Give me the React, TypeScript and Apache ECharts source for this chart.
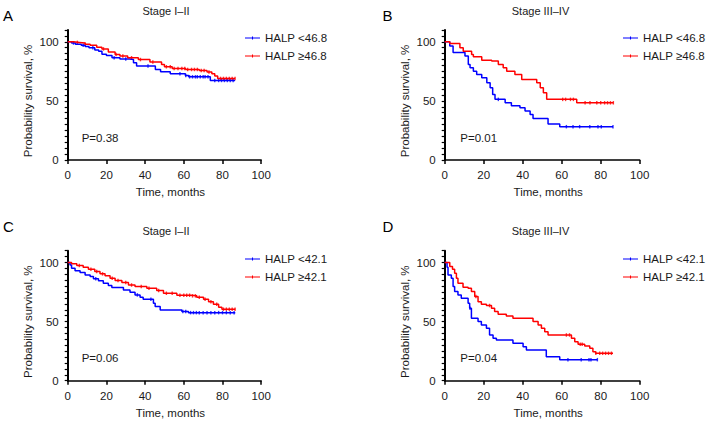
import React, { useEffect, useRef } from "react";
import * as echarts from "echarts";

// ---------- data (time in months, survival in %) ----------
const xTicks = [0, 20, 40, 60, 80, 100];
const yLabels = [0, 50, 100];

// Panel A – Stage I–II, HALP cut-off 46.8
const aLowT = [0, 2, 4, 7, 9, 11, 14, 16, 17.7, 20, 22.9, 27, 32, 34, 35.6, 45.3, 48, 53, 60.8, 62.5, 73.7, 86.5];
const aLowS = [100, 99, 98, 97, 96, 95, 93, 92, 89.5, 88.5, 86.5, 85.5, 85, 82.3, 79.5, 76.6, 74.7, 73, 71.6, 70.4, 67.3, 67.3];
const aLowCensor = [3, 8, 13, 24, 30, 41.5, 58, 61, 63, 64.5, 66, 67, 68.5, 70, 71, 72.5, 76, 78, 79.5, 81, 82.5, 84, 85.5];
const aHighT = [0, 3, 6, 9, 11.6, 15, 17.7, 21, 24.5, 27, 31, 36.5, 42.5, 48.5, 50, 54, 61, 68, 72, 74.5, 76, 77.5, 86.5];
const aHighS = [100, 99.5, 99, 98, 97, 95.5, 94, 91.3, 89.3, 87.9, 86.5, 85, 83, 80.9, 78.9, 77.5, 76.6, 75.8, 74.4, 73, 71, 69, 69];
const aHighCensor = [5, 9, 18.5, 25, 28.5, 33, 37.6, 44, 51, 53, 55, 57, 59, 60.5, 62, 64, 65.5, 67, 69, 70.5, 73, 79, 80.5, 82, 83.5, 85, 86.5];

// Panel B – Stage III–IV, HALP cut-off 46.8
const bLowT = [0, 2.6, 4.3, 10.4, 12.1, 13, 14.7, 16.4, 19, 21.6, 23.3, 24.6, 25.8, 31, 34.2, 38.6, 41.2, 43.8, 45.3, 53, 59, 86.3];
const bLowS = [100, 96.4, 91, 87.9, 80.9, 78, 75.2, 72.4, 69.6, 65.4, 61.1, 55.5, 51.3, 48.4, 46, 44.2, 41.4, 38.6, 35.2, 30.4, 28.2, 28.2];
const bLowCensor = [27.5, 62.4, 65.8, 69.2, 74.4, 78.6, 80.3, 86.3];
const bHighT = [0, 2.6, 7.8, 9.5, 13.8, 14.7, 19, 24.1, 27.5, 30, 31.8, 36, 39.5, 47.2, 49, 50.6, 52.3, 67.7, 86.5];
const bHighS = [100, 98.6, 94.9, 92.1, 89.3, 87.3, 84.5, 83.7, 80.9, 78, 75.2, 72.4, 68.2, 65.3, 61.1, 56.9, 51.3, 48.4, 48.4];
const bHighCensor = [60.5, 62, 64.5, 66, 72, 74.5, 78, 80, 82, 83.5, 85, 86.5];

// Panel C – Stage I–II, HALP cut-off 42.1
const cLowT = [0, 1.2, 2, 3.8, 6.4, 9, 11.6, 13.3, 15.9, 18.4, 21, 22.8, 28.8, 32.2, 34.8, 37.4, 39, 44.3, 45.2, 47.8, 59, 62.4, 86.6];
const cLowS = [100, 98, 95.2, 93, 91.5, 89.5, 88.1, 86.2, 84.5, 82.5, 80.5, 78.8, 76.8, 74.9, 72.6, 70.6, 68.9, 65.5, 62.7, 59.9, 58.5, 57.6, 57.6];
const cLowCensor = [14.5, 36, 43, 59.5, 61, 63.5, 65, 66.5, 68, 70, 72, 74, 76, 78, 80, 82, 84, 86];
const cHighT = [0, 2, 4.7, 8, 10.7, 14, 16.7, 19.3, 21.9, 24.5, 28, 31.4, 34.8, 40.9, 46, 49.5, 56.4, 63.3, 66.7, 70.2, 72.8, 75.3, 78, 79.7, 86.6];
const cHighS = [100, 99, 97.5, 96, 94.4, 92.4, 90.4, 88.7, 86.7, 84.7, 83, 81, 79.7, 78.2, 76.3, 74, 72.3, 71.8, 70.6, 68.9, 66.7, 64.7, 62.1, 60.5, 60.5];
const cHighCensor = [6, 12, 15, 18, 23, 26, 30, 33, 38, 42, 47, 51, 54, 58, 60, 61.5, 63, 64.5, 66, 68, 71, 74, 77, 80.5, 82, 83.5, 85, 86.5];

// Panel D – Stage III–IV, HALP cut-off 42.1
const dLowT = [0, 1.2, 1.7, 3.4, 4.3, 5.1, 6.8, 8.5, 12, 12.8, 13.7, 17.1, 18.8, 21.4, 23, 24.8, 26.5, 35, 40.2, 41.9, 52.1, 59, 78.3];
const dLowS = [100, 96, 89.5, 86.7, 79.7, 75.4, 72.6, 69.8, 65.5, 61.3, 52.8, 50, 47.2, 44.4, 38.7, 35.9, 34.5, 31.6, 28.8, 26, 20.3, 17.8, 17.8];
const dLowCensor = [13, 63.2, 70, 74, 75, 78.3];
const dHighT = [0, 2.6, 4, 5.1, 6, 6.8, 9.4, 12, 13.7, 15.4, 17.1, 18.8, 21.4, 24, 25.6, 27.4, 31.6, 35, 45.3, 47.9, 49.6, 51.3, 53, 65, 66.7, 68.4, 71.8, 74.4, 76, 77.4, 86.3];
const dHighS = [100, 96.6, 94.4, 91, 86.7, 82.5, 79.1, 78.2, 75.4, 71.2, 66.9, 64.7, 63.6, 61.3, 58.5, 56.2, 54.8, 52.8, 50, 47.2, 44.4, 41.5, 38.7, 35.9, 33, 30.8, 29.4, 27.4, 24.6, 23.2, 23.2];
const dHighCensor = [16, 23, 62.4, 64, 69.5, 70.5, 77.5, 79.5, 81, 82.5, 84, 85.5];

const titles = ["Stage I–II", "Stage III–IV", "Stage I–II", "Stage III–IV"];
const letters = ["A", "B", "C", "D"];
const pValues = ["P=0.38", "P=0.01", "P=0.06", "P=0.04"];
const lowNames = ["HALP <46.8", "HALP <46.8", "HALP <42.1", "HALP <42.1"];
const highNames = ["HALP ≥46.8", "HALP ≥46.8", "HALP ≥42.1", "HALP ≥42.1"];

const lowData = [
  [aLowT, aLowS, aLowCensor],
  [bLowT, bLowS, bLowCensor],
  [cLowT, cLowS, cLowCensor],
  [dLowT, dLowS, dLowCensor],
];
const highData = [
  [aHighT, aHighS, aHighCensor],
  [bHighT, bHighS, bHighCensor],
  [cHighT, cHighS, cHighCensor],
  [dHighT, dHighS, dHighCensor],
];

// ---------- layout ----------
const FONT = '"Liberation Sans", Arial, Helvetica, sans-serif';
const BLUE = "#0000ff";
const RED = "#ff0000";
const TXT = "#1a1a1a";

const gridLeft = [67.7, 444.7, 67.7, 444.7];
const gridTop = [30, 30, 250.7, 250.7];
const gridW = [193.5, 195, 193.5, 195];
const gridH = 130;
const legendLeft = [245, 623, 245, 623];
const legendTop = [31, 31, 252, 252];
const titleX = [166, 540.5, 166, 540.5];
const titleY = [11, 11, 230.7, 230.7];
const letterX = [3, 382.5, 3, 382.5];
const letterY = [15, 15, 226, 226];
const pX = [81.7, 460.3, 81.7, 460.3];
const pY = [137.7, 137.7, 357.7, 357.7];

function survAt(t: number, T: number[], S: number[]) {
  let v = S[0];
  for (let i = 0; i < T.length; i++) {
    if (T[i] <= t) v = S[i];
    else break;
  }
  return v;
}

const legendIcon = "path://M0,1.8H20V3.2H0Z M9.3,0.5H10.7V4.5H9.3Z";

function buildOption() {
  const grid: any[] = [];
  const xAxis: any[] = [];
  const yAxis: any[] = [];
  const series: any[] = [];
  const legend: any[] = [];
  const graphic: any[] = [];

  for (let i = 0; i < 4; i++) {
    grid.push({ left: gridLeft[i], top: gridTop[i], width: gridW[i], height: gridH, containLabel: false });
    xAxis.push({
      type: "value",
      gridIndex: i,
      min: xTicks[0],
      max: xTicks[xTicks.length - 1],
      interval: xTicks[1] - xTicks[0],
      name: "Time, months",
      nameLocation: "middle",
      nameGap: 26,
      nameTextStyle: { fontFamily: FONT, fontSize: 11.5, color: TXT, padding: [0, 0, 0, 12] },
      axisLine: { show: true, onZero: false, lineStyle: { color: "#000", width: 1.5 } },
      axisTick: { show: true, length: 4, lineStyle: { color: "#000", width: 1.5 } },
      axisLabel: { margin: 9, fontFamily: FONT, fontSize: 11.5, color: TXT },
      splitLine: { show: false },
    });
    yAxis.push({
      type: "value",
      gridIndex: i,
      min: 0,
      max: 110,
      interval: 5,
      name: "Probability survival, %",
      nameLocation: "middle",
      nameGap: 34,
      nameTextStyle: { fontFamily: FONT, fontSize: 11.5, color: TXT, padding: [0, 12, 0, 0] },
      axisLine: { show: true, onZero: false, lineStyle: { color: "#000", width: 2 } },
      axisTick: { show: true, length: 3, lineStyle: { color: "#000", width: 1.2 } },
      axisLabel: {
        margin: 9,
        fontFamily: FONT,
        fontSize: 11.5,
        color: TXT,
        formatter: (v: number) => (yLabels.indexOf(v) >= 0 ? String(v) : ""),
      },
      splitLine: { show: false },
    });

    const groups = [
      { name: lowNames[i], d: lowData[i], color: BLUE },
      { name: highNames[i], d: highData[i], color: RED },
    ];
    groups.forEach((g) => {
      const [T, S, C] = g.d as number[][];
      series.push({
        type: "line",
        name: g.name,
        xAxisIndex: i,
        yAxisIndex: i,
        step: "end",
        symbol: "none",
        data: T.map((t, k) => [t, S[k]]),
        lineStyle: { color: g.color, width: 1.5 },
        itemStyle: { color: g.color },
        color: g.color,
      });
      series.push({
        type: "scatter",
        name: g.name + " censored",
        xAxisIndex: i,
        yAxisIndex: i,
        symbol: "rect",
        symbolSize: [1.4, 3.5],
        silent: true,
        data: C.map((t) => [t, survAt(t, T, S)]),
        itemStyle: { color: g.color },
      });
    });

    legend.push({
      data: [lowNames[i], highNames[i]],
      left: legendLeft[i],
      top: legendTop[i],
      orient: "vertical",
      itemWidth: 15,
      itemHeight: 5,
      itemGap: 4,
      icon: legendIcon,
      selectedMode: false,
      padding: 0,
      textStyle: { fontFamily: FONT, fontSize: 11.5, color: TXT, lineHeight: 14 },
    });

    graphic.push({
      type: "text",
      x: titleX[i],
      y: titleY[i],
      style: {
        text: titles[i],
        fontFamily: FONT,
        fontSize: 11,
        fill: TXT,
        align: "center",
        verticalAlign: "middle",
        textAlign: "center",
        textVerticalAlign: "middle",
      },
    });
    graphic.push({
      type: "text",
      x: letterX[i],
      y: letterY[i],
      style: {
        text: letters[i],
        fontFamily: FONT,
        fontSize: 15,
        fill: "#000",
        align: "left",
        verticalAlign: "middle",
        textAlign: "left",
        textVerticalAlign: "middle",
      },
    });
    graphic.push({
      type: "text",
      x: pX[i],
      y: pY[i],
      style: {
        text: pValues[i],
        fontFamily: FONT,
        fontSize: 11.5,
        fill: TXT,
        align: "left",
        verticalAlign: "middle",
        textAlign: "left",
        textVerticalAlign: "middle",
      },
    });
  }

  return {
    animation: false,
    backgroundColor: "#ffffff",
    grid,
    xAxis,
    yAxis,
    series,
    legend,
    graphic,
  };
}

export default function App() {
  const ref = useRef<HTMLDivElement | null>(null);
  useEffect(() => {
    document.body.style.margin = "0";
    if (!ref.current) return;
    const chart = echarts.init(ref.current, undefined, { renderer: "svg" });
    chart.setOption(buildOption() as any);
    return () => {
      chart.dispose();
    };
  }, []);
  return (
    <div
      ref={ref}
      style={{ position: "absolute", left: 0, top: 0, width: 706, height: 422, background: "#fff" }}
    />
  );
}
